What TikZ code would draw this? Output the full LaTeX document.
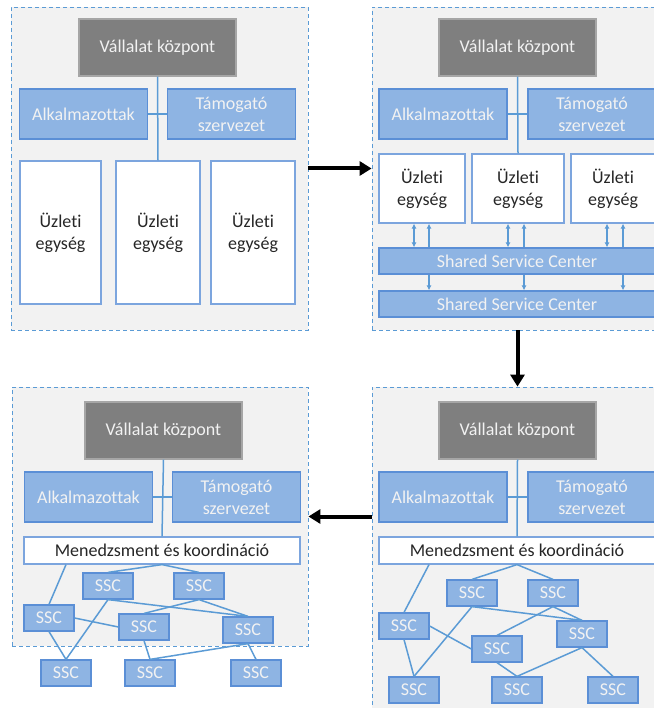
\documentclass[tikz,border=0pt]{standalone}
\usepackage{fontspec}
\setmainfont{Carlito}[Ligatures=NoCommon]
\usetikzlibrary{arrows.meta}
\definecolor{hqgray}{HTML}{7F7F7F}
\definecolor{unitblue}{HTML}{8EB4E3}
\definecolor{edgeblue}{HTML}{5B8FD6}
\definecolor{linkblue}{HTML}{5B9BD5}
\definecolor{panelbg}{HTML}{F2F2F2}
\tikzset{
  box/.style={draw, line width=1.2pt, inner sep=0pt, align=center, font=\fontsize{18}{22}\selectfont},
  hq/.style={box, fill=hqgray, draw=black!35, text=panelbg, minimum width=157pt, minimum height=57pt},
  staff/.style={box, fill=unitblue, draw=edgeblue, text=panelbg, minimum width=128pt, minimum height=50pt},
  unit/.style={box, fill=white, draw=edgeblue!80, text=black!85},
  ssc/.style={box, fill=unitblue, draw=edgeblue, text=panelbg, minimum width=50pt, minimum height=26pt},
  panel/.style={draw=linkblue, fill=panelbg, dash pattern=on 4pt off 3pt, line width=0.8pt, inner sep=0pt},
  link/.style={draw=linkblue, line width=1.5pt},
  flow/.style={line width=4pt, -{Triangle[length=12pt,width=14pt]}},
  tip/.style={-{Latex[length=5pt,width=5pt]}},
  tips/.style={{Latex[length=5pt,width=5pt]}-{Latex[length=5pt,width=5pt]}},
}
\begin{document}
\begin{tikzpicture}[x=1pt,y=-1pt]
  \useasboundingbox (0,0) rectangle (653,708);
  % panels
  \node[panel, minimum width=297pt, minimum height=323pt] (p1) at (159.5,168.5) {};
  \node[panel, minimum width=288pt, minimum height=323pt] (p2) at (516,168.5) {};
  \node[panel, minimum width=296pt, minimum height=259pt] (p3) at (160,516.5) {};
  \node[panel, minimum width=288pt, minimum height=328pt] (p4) at (516,551) {};

  % panel 1
  \node[hq] (hq1) at (157.5,47.5) {Vállalat központ};
  \node[staff] (alk1) at (83.5,114) {Alkalmazottak};
  \node[staff] (tam1) at (231.5,114) {Támogató\\szervezet};
  \node[unit, minimum width=81pt, minimum height=143pt] (u11) at (60.5,232.5) {Üzleti\\egység};
  \node[unit, minimum width=84pt, minimum height=143pt] (u12) at (158,232.5) {Üzleti\\egység};
  \node[unit, minimum width=84pt, minimum height=143pt] (u13) at (253,232.5) {Üzleti\\egység};
  \draw[link] (hq1.south) -- (u12.north);
  \draw[link] (alk1.east) -- (tam1.west);

  % panel 2
  \node[hq] (hq2) at (517.5,47.5) {Vállalat központ};
  \node[staff] (alk2) at (443,114) {Alkalmazottak};
  \node[staff] (tam2) at (592,114) {Támogató\\szervezet};
  \node[unit, minimum width=86pt, minimum height=69pt] (u21) at (422,188.5) {Üzleti\\egység};
  \node[unit, minimum width=92pt, minimum height=69pt] (u22) at (518,188.5) {Üzleti\\egység};
  \node[unit, minimum width=84pt, minimum height=69pt] (u23) at (613,188.5) {Üzleti\\egység};
  \node[ssc, minimum width=276pt] (ssc21) at (517,261) {Shared Service Center};
  \node[ssc, minimum width=276pt] (ssc22) at (517,304) {Shared Service Center};
  \draw[link] (hq2.south) -- (u22.north);
  \draw[link] (alk2.east) -- (tam2.west);
  \foreach \u/\a/\b in {u21/414/429, u22/508/524, u23/607/623} {
    \draw[link, tips] (\u.south -| \a,0) -- (ssc21.north -| \a,0);
    \draw[link, tip] (ssc21.north -| \b,0) -- (\u.south -| \b,0);
    \draw[link, tip] (ssc21.south -| \b,0) -- (ssc22.north -| \b,0);
  }

  % panel 3
  \node[hq] (hq3) at (163.5,430.5) {Vállalat központ};
  \node[staff] (alk3) at (88.5,497) {Alkalmazottak};
  \node[staff] (tam3) at (236.5,497) {Támogató\\szervezet};
  \node[unit, minimum width=276pt, minimum height=27pt] (men3) at (162,550.5) {Menedzsment és koordináció};
  \node[ssc] (a3) at (108,586) {SSC};
  \node[ssc] (b3) at (199,586) {SSC};
  \node[ssc] (c3) at (49,618) {SSC};
  \node[ssc] (e3) at (144,627) {SSC};
  \node[ssc] (d3) at (248,630) {SSC};
  \node[ssc] (f3) at (66,673) {SSC};
  \node[ssc] (g3) at (150,673) {SSC};
  \node[ssc] (h3) at (256,673) {SSC};
  \draw[link] (hq3.south) -- (men3.north);
  \draw[link] (alk3.east) -- (tam3.west);
  \draw[link] (men3.south -| 66,0) -- (c3.north);
  \draw[link] (a3.north) -- (men3.south) -- (b3.north);
  \draw[link] (f3.north) -- (a3.south) -- (d3.north);
  \draw[link] (e3.north) -- (b3.south) -- (d3.north);
  \draw[link] (c3.east) -- (e3.west);
  \draw[link] (c3.south) -- (f3.north);
  \draw[link] (e3.south) -- (g3.north);
  \draw[link] (g3.north) -- (d3.south) -- (h3.north);

  % panel 4
  \node[hq] (hq4) at (517.5,430.5) {Vállalat központ};
  \node[staff] (alk4) at (443,497) {Alkalmazottak};
  \node[staff] (tam4) at (592,497) {Támogató\\szervezet};
  \node[unit, minimum width=276pt, minimum height=27pt] (men4) at (517,550.5) {Menedzsment és koordináció};
  \node[ssc] (a4) at (472,593) {SSC};
  \node[ssc] (b4) at (553,593) {SSC};
  \node[ssc] (c4) at (404,626) {SSC};
  \node[ssc] (d4) at (582,634) {SSC};
  \node[ssc] (e4) at (497,649) {SSC};
  \node[ssc] (f4) at (414,690) {SSC};
  \node[ssc] (g4) at (517,690) {SSC};
  \node[ssc] (h4) at (613,690) {SSC};
  \draw[link] (hq4.south) -- (men4.north);
  \draw[link] (alk4.east) -- (tam4.west);
  \draw[link] (men4.south -| 429,0) -- (c4.north);
  \draw[link] (a4.north) -- (men4.south) -- (b4.north);
  \draw[link] (f4.north) -- (a4.south) -- (d4.north);
  \draw[link] (e4.north) -- (b4.south) -- (d4.north);
  \draw[link] (c4.east) -- (e4.west);
  \draw[link] (c4.south) -- (f4.north);
  \draw[link] (e4.south) -- (g4.north);
  \draw[link] (g4.north) -- (d4.south) -- (h4.north);

  % transitions
  \draw[flow] (p1.east) -- (p2.west);
  \draw[flow] (hq2 |- p2.south) -- (hq2 |- p4.north);
  \draw[flow] (p4.west |- p3.east) -- (p3.east);
\end{tikzpicture}
\end{document}
